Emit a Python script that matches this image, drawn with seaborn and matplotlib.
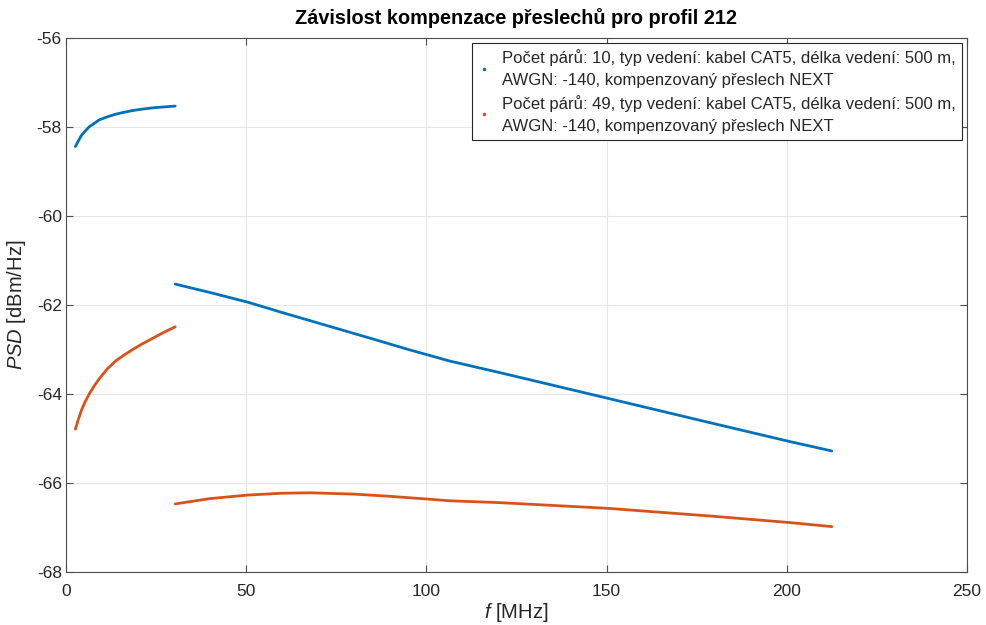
import numpy as np
import pandas as pd
import matplotlib
matplotlib.use("Agg")
import matplotlib.pyplot as plt
from matplotlib.lines import Line2D
import seaborn as sns

# ---- data ----
f_low = [2.6, 3.3, 4.2, 5.2, 6.5, 7.8, 9.2, 11.5, 13.9, 16.0, 18.5, 21.0, 24.0, 27.0, 30.3]
blue_low = [-58.44, -58.33, -58.20, -58.10, -57.99, -57.92, -57.84, -57.77, -57.71,
            -57.67, -57.63, -57.60, -57.57, -57.55, -57.53]
orange_low = [-64.79, -64.60, -64.38, -64.19, -63.99, -63.82, -63.66, -63.43, -63.25,
              -63.13, -63.00, -62.88, -62.75, -62.62, -62.49]

f_high_blue = [30.3, 40.0, 50.6, 60.0, 72.3, 85.0, 95.0, 106.5, 120.4, 150.5, 180.0, 200.9, 212.5]
blue_high = [-61.53, -61.72, -61.94, -62.17, -62.46, -62.76, -63.00, -63.26, -63.52,
             -64.10, -64.67, -65.07, -65.28]

f_high_orange = [30.3, 40.0, 50.6, 60.0, 67.7, 80.0, 90.0, 100.1, 106.5, 120.0, 150.5, 180.0,
                 200.9, 212.5]
orange_high = [-66.47, -66.35, -66.27, -66.23, -66.22, -66.25, -66.30, -66.36, -66.40,
               -66.44, -66.57, -66.75, -66.89, -66.98]

labels = [
    "Počet párů: 10, typ vedení: kabel CAT5, délka vedení: 500 m,\nAWGN: -140, kompenzovaný přeslech NEXT",
    "Počet párů: 49, typ vedení: kabel CAT5, délka vedení: 500 m,\nAWGN: -140, kompenzovaný přeslech NEXT",
]
colors = ["#0072BD", "#D95319"]

frames = [
    pd.DataFrame({"f": f_low, "psd": blue_low, "series": labels[0], "seg": "b1"}),
    pd.DataFrame({"f": f_high_blue, "psd": blue_high, "series": labels[0], "seg": "b2"}),
    pd.DataFrame({"f": f_low, "psd": orange_low, "series": labels[1], "seg": "o1"}),
    pd.DataFrame({"f": f_high_orange, "psd": orange_high, "series": labels[1], "seg": "o2"}),
]
df = pd.concat(frames, ignore_index=True)

sns.set_theme(style="white")
plt.rcParams["font.family"] = ["Liberation Sans", "DejaVu Sans"]
plt.rcParams["mathtext.fontset"] = "custom"
plt.rcParams["mathtext.it"] = "Liberation Sans:italic"
plt.rcParams["mathtext.rm"] = "Liberation Sans"
plt.rcParams["axes.unicode_minus"] = False

fig = plt.figure(figsize=(9.87, 6.25), dpi=100)
ax = fig.add_axes([0.0669, 0.0848, 0.9128, 0.8544])

sns.lineplot(data=df, x="f", y="psd", hue="series", units="seg", estimator=None,
             palette=dict(zip(labels, colors)), linewidth=2.0, ax=ax, legend=False,
             sort=False)
for ln in ax.lines:
    ln.set_solid_joinstyle("round")
    ln.set_solid_capstyle("round")

ax.set_xlim(0, 250)
ax.set_ylim(-68, -56)
ax.set_xticks([0, 50, 100, 150, 200, 250])
ax.set_yticks([-68, -66, -64, -62, -60, -58, -56])
ax.grid(True, color="#e6e6e6", linewidth=0.8)
ax.set_axisbelow(True)

axis_col = "#4d4d4d"
for s in ax.spines.values():
    s.set_visible(True)
    s.set_color(axis_col)
    s.set_linewidth(0.8)
ax.tick_params(direction="in", length=5, width=0.8, color=axis_col,
               labelcolor="#262626", labelsize=12.5, top=True, right=True,
               bottom=True, left=True)
ax.tick_params(axis="x", pad=9)
ax.tick_params(axis="y", pad=3)

ax.set_xlabel(r"$f$ [MHz]", fontsize=14.5, color="#262626", labelpad=1)
ax.set_ylabel(r"$PSD$ [dBm/Hz]", fontsize=14.5, color="#262626", labelpad=6)
ax.set_title("Závislost kompenzace přeslechů pro profil 212", fontsize=14.3,
             fontweight="bold", color="black", pad=10)

handles = [Line2D([], [], linestyle="none", marker=".", markersize=3, color=c) for c in colors]
leg = ax.legend(handles, labels, loc="upper right", fontsize=12, frameon=True,
                fancybox=False, edgecolor="#262626", framealpha=1,
                handlelength=0.8, handletextpad=0.7, borderaxespad=0.3,
                labelspacing=0.4, borderpad=0.35)
leg.get_frame().set_linewidth(0.8)
for t in leg.get_texts():
    t.set_linespacing(1.6)

fig.savefig("out.png", dpi=100)
